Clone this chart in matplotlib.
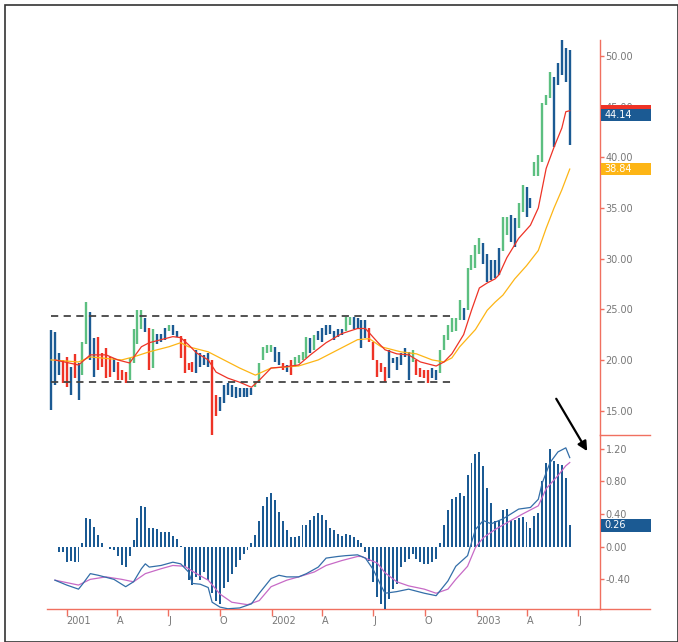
import numpy as np
import pandas as pd
import matplotlib
matplotlib.use("Agg")
import matplotlib.pyplot as plt
import matplotlib.dates as mdates
from matplotlib.patches import Rectangle
from matplotlib.lines import Line2D

# weekly bars, Dec 2000 .. Jun 2003
dates = pd.date_range("2000-12-04", periods=133, freq="7D")

highs = [22.95, 22.75, 20.7, 20.0, 20.3, 19.3, 20.6, 19.7, 21.8, 25.7,
         24.7, 22.2, 22.3, 20.7, 21.2, 20.3, 20.2, 19.8, 19.0, 18.8,
         20.2, 23.1, 24.9, 24.9, 24.1, 23.2, 23.1, 22.6, 22.6, 23.2,
         23.4, 23.4, 22.9, 22.4, 22.1, 19.7, 19.8, 21.0, 20.7, 20.5,
         20.7, 20.0, 16.5, 16.3, 17.5, 17.7, 17.5, 17.3, 17.2, 17.2,
         17.2, 17.2, 17.8, 19.7, 21.3, 21.5, 21.5, 21.3, 20.8, 19.7,
         19.5, 20.0, 20.3, 20.5, 20.8, 22.3, 22.2, 22.5, 22.9, 23.2,
         23.4, 23.4, 22.9, 23.1, 23.1, 24.2, 24.2, 24.2, 24.1, 23.9,
         23.9, 23.2, 21.8, 20.0, 19.7, 19.3, 21.0, 20.2, 20.3, 20.7,
         21.2, 20.8, 21.0, 20.0, 19.2, 19.0, 19.0, 19.2, 19.0, 21.0,
         22.5, 23.4, 24.1, 24.1, 25.9, 25.1, 29.1, 30.4, 31.3, 32.0,
         31.5, 30.5, 29.9, 29.9, 31.0, 34.1, 34.1, 34.3, 34.0, 35.5,
         37.3, 37.1, 36.0, 39.5, 40.2, 45.4, 46.2, 48.4, 47.9, 49.3,
         51.8, 50.8, 50.6]

lows = [15.05, 17.5, 18.5, 17.7, 17.3, 16.5, 18.2, 16.0, 18.5, 21.6,
        20.0, 18.3, 19.0, 19.3, 18.2, 18.3, 18.8, 18.0, 18.0, 17.7,
        18.0, 19.7, 21.6, 23.1, 22.8, 19.0, 19.2, 21.6, 21.8, 22.0,
        22.9, 22.5, 22.3, 20.2, 18.7, 19.0, 18.8, 18.7, 19.3, 19.5,
        19.3, 12.6, 14.5, 15.0, 15.7, 16.5, 16.3, 16.2, 16.3, 16.3,
        16.3, 16.5, 17.3, 17.7, 20.0, 20.7, 20.8, 19.8, 19.5, 19.0,
        18.8, 18.5, 19.3, 19.7, 20.0, 20.2, 20.7, 21.0, 22.0, 21.8,
        22.5, 22.6, 22.0, 22.3, 22.5, 22.9, 23.4, 23.1, 23.1, 21.2,
        22.2, 21.8, 20.0, 18.3, 18.8, 17.8, 18.2, 19.7, 19.0, 19.5,
        20.3, 18.0, 19.8, 18.5, 18.3, 18.2, 17.7, 18.2, 18.0, 18.7,
        21.0, 22.0, 22.8, 22.9, 23.9, 23.9, 24.9, 28.9, 29.1, 30.5,
        29.5, 27.7, 27.9, 28.1, 28.4, 30.8, 32.3, 31.6, 31.1, 33.0,
        34.6, 34.1, 35.0, 38.2, 38.2, 39.5, 45.2, 45.9, 41.0, 47.1,
        48.1, 47.4, 41.2]

# G = up, R = down, B = neutral
bar_kind = ("BBBRRBRBGG" "BBRRRRBRRR" "GGGGBRGBBB" "GBBRRRRBBB"
            "BRRBBBBBBB" "BBGGGGGBBR" "BRGGGGBGBB" "BBBBBGGBBB"
            "BRRRRRBBBB" "BBGRRRRBBG" "GGGGGBGGGG" "BBBBBGGBBG"
            "GBBGGGGGBB" "BBB")

last_close = 44.14

# moving averages (bar index, value)
ma_fast_idx = [1, 7, 10, 14, 17, 20, 23, 25, 28, 31, 33, 35, 37, 40, 42, 45, 48, 51, 53,
               56, 59, 63, 66, 70, 74, 78, 80, 83, 85, 88, 91, 94, 98, 100, 102, 105,
               107, 109, 111, 113, 114, 116, 119, 122, 124, 126, 128, 130, 131, 132]
ma_fast_val = [20.0, 19.5, 20.5, 20.5, 20.0, 19.7, 21.3, 21.7, 22.0, 22.3, 22.2, 21.5, 20.7,
               20.0, 18.8, 18.2, 17.8, 17.3, 18.0, 19.2, 19.3, 19.5, 20.5, 21.7, 22.6, 23.1,
               23.1, 21.8, 21.0, 20.6, 20.5, 19.8, 19.4, 19.8, 20.6, 22.5, 24.9, 27.1, 27.6,
               28.0, 28.4, 30.1, 32.0, 33.3, 35.0, 38.9, 41.0, 42.9, 44.5, 44.6]

ma_slow_idx = [0, 7, 10, 18, 21, 25, 30, 33, 35, 40, 44, 48, 52, 56, 63, 68, 73, 78, 81,
               84, 89, 93, 97, 100, 102, 104, 108, 111, 113, 115, 118, 121, 124, 126,
               128, 130, 132]
ma_slow_val = [20.0, 19.8, 20.3, 20.0, 20.3, 20.8, 21.3, 21.7, 21.3, 20.8, 20.0, 19.2, 18.5,
               19.2, 19.4, 20.0, 21.0, 22.0, 22.1, 21.3, 20.8, 20.6, 20.0, 19.8, 20.2, 21.3,
               23.0, 24.9, 25.7, 26.4, 28.0, 29.3, 30.8, 33.0, 35.0, 36.8, 38.84]

range_top = 24.3
range_bottom = 17.8

hist = [0.0, 0.0, -0.07, -0.07, -0.19, -0.17, -0.19, -0.19, 0.05, 0.35,
        0.34, 0.24, 0.14, 0.04, -0.01, -0.03, -0.04, -0.12, -0.23, -0.25,
        -0.12, 0.08, 0.35, 0.50, 0.48, 0.23, 0.23, 0.22, 0.18, 0.18,
        0.18, 0.13, 0.10, 0.01, -0.25, -0.41, -0.47, -0.37, -0.41, -0.31,
        -0.41, -0.57, -0.66, -0.70, -0.51, -0.43, -0.33, -0.25, -0.16, -0.09,
        -0.04, 0.04, 0.14, 0.31, 0.50, 0.61, 0.66, 0.57, 0.43, 0.31,
        0.20, 0.12, 0.12, 0.13, 0.27, 0.27, 0.33, 0.38, 0.41, 0.39,
        0.33, 0.23, 0.21, 0.16, 0.13, 0.16, 0.14, 0.12, 0.08, 0.04,
        -0.07, -0.17, -0.43, -0.62, -0.70, -0.78, -0.64, -0.52, -0.46, -0.25,
        -0.19, -0.15, -0.09, -0.15, -0.19, -0.21, -0.21, -0.19, -0.15, 0.05,
        0.27, 0.45, 0.58, 0.61, 0.66, 0.62, 0.88, 1.03, 1.13, 1.16,
        0.99, 0.72, 0.53, 0.31, 0.31, 0.45, 0.46, 0.33, 0.33, 0.35,
        0.36, 0.30, 0.23, 0.38, 0.41, 0.81, 1.02, 1.20, 1.05, 1.01,
        1.00, 0.84, 0.26]

macd_idx = [1, 4, 7, 8, 10, 12, 16, 19, 21, 23, 24, 25, 28, 31, 33, 35, 36, 38, 40, 41, 43,
            45, 48, 51, 53, 56, 58, 60, 63, 65, 68, 70, 73, 75, 78, 80, 82, 84, 85, 88, 91,
            95, 98, 101, 103, 106, 108, 110, 112, 115, 119, 122, 124, 125, 127, 129, 131, 132]
macd_val = [-0.41, -0.47, -0.52, -0.46, -0.33, -0.35, -0.40, -0.49, -0.43, -0.27, -0.21,
            -0.25, -0.23, -0.19, -0.21, -0.31, -0.45, -0.46, -0.50, -0.68, -0.74, -0.76,
            -0.75, -0.70, -0.57, -0.39, -0.35, -0.37, -0.37, -0.33, -0.25, -0.14, -0.12,
            -0.11, -0.10, -0.14, -0.28, -0.48, -0.57, -0.55, -0.52, -0.57, -0.60, -0.42,
            -0.24, -0.11, 0.21, 0.32, 0.28, 0.34, 0.46, 0.48, 0.58, 0.78, 1.03, 1.16, 1.21,
            1.09]

signal_idx = [1, 7, 10, 14, 18, 21, 24, 28, 31, 34, 37, 40, 43, 46, 50, 53, 56, 60, 63, 67,
              70, 74, 78, 79, 83, 85, 88, 91, 95, 98, 101, 103, 106, 108, 110, 113, 117,
              120, 124, 126, 129, 131, 132]
signal_val = [-0.41, -0.47, -0.40, -0.37, -0.40, -0.43, -0.33, -0.27, -0.23, -0.24, -0.33,
              -0.41, -0.58, -0.68, -0.71, -0.66, -0.49, -0.41, -0.37, -0.31, -0.23, -0.17,
              -0.12, -0.12, -0.20, -0.32, -0.43, -0.48, -0.52, -0.57, -0.52, -0.40, -0.24,
              -0.01, 0.11, 0.21, 0.32, 0.40, 0.50, 0.71, 0.87, 0.99, 1.03]

price_ticks = [15, 20, 25, 30, 35, 40, 45, 50]
macd_ticks = [-0.4, 0.0, 0.4, 0.8, 1.2]
x_tick_dates = pd.to_datetime(["2001-01-01", "2001-04-01", "2001-07-01", "2001-10-01",
                               "2002-01-01", "2002-04-01", "2002-07-01", "2002-10-01",
                               "2003-01-01", "2003-04-01", "2003-07-01"])
x_tick_labels = ["2001", "A", "J", "O", "2002", "A", "J", "O", "2003", "A", "J"]

# colours
BLUE = "#1b5a93"
GREEN = "#5cbf80"
RED = "#ee3326"
ORANGE = "#fdb515"
PINK = "#c76ac6"
MACD_BLUE = "#336ea8"
AXRED = "#f07060"
GRAY = "#777777"
kind_color = {"B": BLUE, "G": GREEN, "R": RED}

W, H = 678, 642
fig = plt.figure(figsize=(W / 100, H / 100), dpi=100)
plt.rcParams["font.family"] = ["DejaVu Sans"]

left, right = 47 / W, 600 / W
ax = fig.add_axes([left, 1 - 435 / H, right - left, (435 - 40) / H])
axm = fig.add_axes([left, 1 - 609 / H, right - left, (609 - 435) / H], sharex=ax)

xnum = mdates.date2num(dates)
week = 7.0
x0 = xnum[0] - 1.02 * week
x1 = xnum[0] + 139.7 * week

# price bars
cols = [kind_color[k] for k in bar_kind]
ax.vlines(dates, lows, highs, colors=cols, linewidth=1.7, zorder=3)

ax.plot(dates[ma_slow_idx], ma_slow_val, color=ORANGE, lw=0.9, zorder=4)
ax.plot(dates[ma_fast_idx], ma_fast_val, color=RED, lw=0.9, zorder=4)

ax.hlines([range_top, range_bottom], dates[0], dates[102], colors="#444444",
          linestyles=(0, (4, 3)), linewidth=1.3, zorder=5)

ax.set_xlim(x0, x1)
ax.set_ylim(12.59, 51.58)

# macd panel
axm.bar(dates, hist, width=week * 0.5, color=BLUE, zorder=3)
axm.plot(dates[signal_idx], signal_val, color=PINK, lw=0.9, zorder=4)
axm.plot(dates[macd_idx], macd_val, color=MACD_BLUE, lw=0.9, zorder=4)
axm.set_ylim(-0.763, 1.367)

for a, ticks, fmt in [(ax, price_ticks, "{:.2f}"), (axm, macd_ticks, "{:.2f}")]:
    for s in ["left", "top", "bottom"]:
        a.spines[s].set_visible(False)
    a.spines["right"].set_color(AXRED)
    a.spines["right"].set_linewidth(1.0)
    a.yaxis.tick_right()
    a.set_yticks(ticks)
    a.set_yticklabels([fmt.format(t) for t in ticks])
    a.tick_params(axis="y", colors=AXRED, labelcolor=GRAY, labelsize=7, length=3,
                  width=1, pad=1)
    a.patch.set_alpha(0)

ax.tick_params(axis="x", bottom=False, labelbottom=False)
axm.spines["bottom"].set_visible(True)
axm.spines["bottom"].set_color(AXRED)
axm.spines["bottom"].set_linewidth(1.0)
axm.set_xticks(x_tick_dates)
axm.set_xticklabels(x_tick_labels, ha="left")
axm.tick_params(axis="x", colors=AXRED, labelcolor=GRAY, labelsize=7, length=5,
                width=1, pad=0)

# red extensions to the right of the price scale
fig.add_artist(Line2D([600 / W, 650 / W], [1 - 435 / H, 1 - 435 / H], color=AXRED, lw=1.0))
fig.add_artist(Line2D([600 / W, 650 / W], [1 - 609 / H, 1 - 609 / H], color=AXRED, lw=1.0))


def tag(a, value, text, color, height):
    r = Rectangle((1.002, value - height / 2), 50 / 553, height, transform=a.get_yaxis_transform(),
                  facecolor=color, edgecolor="none", clip_on=False, zorder=10)
    a.add_patch(r)
    if text:
        a.text(1.008, value, text, transform=a.get_yaxis_transform(), color="white",
               fontsize=7, va="center", ha="left", clip_on=False, zorder=11)


tag(ax, ma_fast_val[-1], "", RED, 1.2)
tag(ax, last_close, f"{last_close:.2f}", BLUE, 1.2)
tag(ax, ma_slow_val[-1], f"{ma_slow_val[-1]:.2f}", ORANGE, 1.2)
tag(axm, hist[-1], f"{hist[-1]:.2f}", BLUE, 0.15)

# arrow pointing at the latest macd turn
axm.annotate("", xy=(xnum[0] + 136.8 * week, 1.14), xytext=(xnum[0] + 128.2 * week, 1.84),
             xycoords="data", textcoords="data",
             arrowprops=dict(arrowstyle="-|>", color="black", lw=1.6, mutation_scale=14),
             annotation_clip=False)

# outer frame
fig.add_artist(Rectangle((5 / W, 0), 1 - 5 / W, 1 - 5 / H, transform=fig.transFigure,
                         fill=False, edgecolor="#333333", lw=1.2))

fig.savefig("out.png", dpi=100)
